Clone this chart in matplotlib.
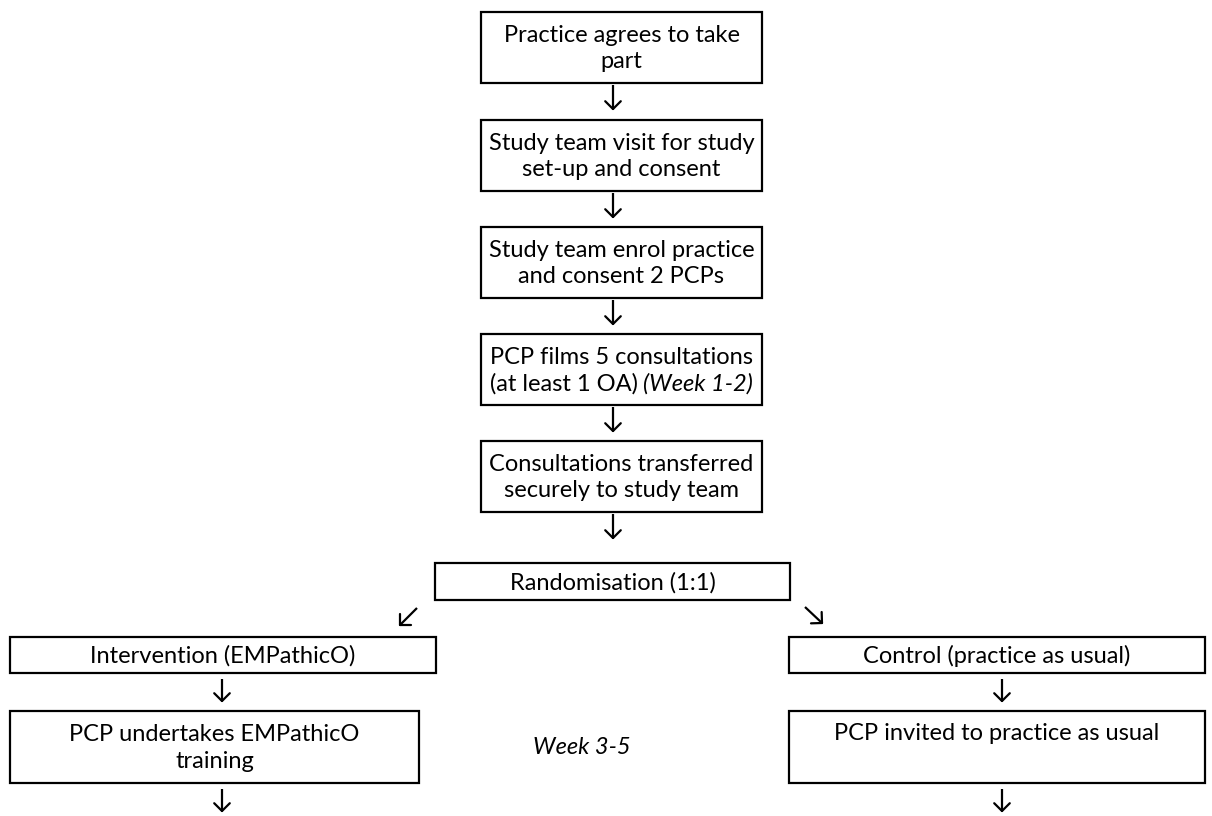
import matplotlib
matplotlib.use("Agg")
import numpy as np
from matplotlib import pyplot as plt
from matplotlib.patches import Rectangle

plt.rcParams['font.family'] = ['Lato', 'DejaVu Sans']

# flowchart text
main_steps = [
    "Practice agrees to take\npart",
    "Study team visit for study\nset-up and consent",
    "Study team enrol practice\nand consent 2 PCPs",
    None,
    "Consultations transferred\nsecurely to study team",
]
films_line = "PCP films 5 consultations"
week_plain = "(at least 1 OA)"
week_italic = "(Week 1-2)"
rand_label = "Randomisation (1:1)"
left_steps = ["Intervention (EMPathicO)", "PCP undertakes EMPathicO\ntraining"]
right_steps = ["Control (practice as usual)", "PCP invited to practice as usual"]
middle_note = "Week 3-5"

W, H = 1212, 816
fig = plt.figure(figsize=(W / 100, H / 100), dpi=100)
ax = fig.add_axes([0, 0, 1, 1])
ax.set_xlim(0, W)
ax.set_ylim(H, 0)
ax.axis('off')

FS = 17
LW = 1.6
LS = 1.35


def box(x0, y0, x1, y1, text=None, va_top=False):
    ax.add_patch(Rectangle((x0, y0), x1 - x0, y1 - y0, fill=False,
                           edgecolor='black', linewidth=LW))
    if text is not None:
        if va_top:
            ax.text((x0 + x1) / 2, y0 + 22, text, ha='center', va='center',
                    fontsize=FS, linespacing=LS)
        else:
            ax.text((x0 + x1) / 2, (y0 + y1) / 2 + 1, text, ha='center',
                    va='center', fontsize=FS, linespacing=LS)


def arrow(xt, yt, dx, dy, size=10):
    # tail-to-tip line plus open chevron head
    L = np.hypot(dx, dy)
    ux, uy = dx / L, dy / L
    x0, y0 = xt - dx, yt - dy
    ax.plot([x0, xt], [y0, yt], color='black', lw=1.6, solid_capstyle='butt')
    for ang in (np.pi * 3 / 4, -np.pi * 3 / 4):
        c, s = np.cos(ang), np.sin(ang)
        hx = ux * c - uy * s
        hy = ux * s + uy * c
        ax.plot([xt, xt + hx * size], [yt, yt + hy * size], color='black',
                lw=1.6, solid_capstyle='round')


# main column
cx0, cx1 = 481, 762
cx = (cx0 + cx1) / 2
tops = [12, 120, 227, 334, 441]
for i, label in enumerate(main_steps):
    y0 = tops[i]
    y1 = y0 + 71
    box(cx0, y0, cx1, y1, label)
    arrow(613, y1 + 26, 0, 24, size=11)

# 4th box: first line plain, second line plain + italic
y4 = tops[3]
ax.text(cx, y4 + 23, films_line, ha='center', va='center', fontsize=FS)
fig.canvas.draw()
r = fig.canvas.get_renderer()
yline = y4 + 50
gap = 5
tp = ax.text(0, yline, week_plain, fontsize=FS, va='center')
ti = ax.text(0, yline, week_italic, fontsize=FS, va='center', style='italic')
wp = tp.get_window_extent(r).width
wi = ti.get_window_extent(r).width
start = cx - (wp + gap + wi) / 2
tp.set_x(start)
ti.set_x(start + wp + gap)

# randomisation
box(435, 563, 790, 600, rand_label)
arrow(400, 625, -17, 17, size=11)
arrow(822, 623, 17, 16, size=11)

# arms
lx0, lx1 = 10, 436
rx0, rx1 = 789, 1205
box(lx0, 637, lx1, 673, left_steps[0])
box(rx0, 637, rx1, 673, right_steps[0])
arrow(222, 701, 0, 22, size=11)
arrow(1002, 701, 0, 22, size=11)
box(lx0, 711, 419, 783, left_steps[1])
box(rx0, 711, rx1, 783, right_steps[1], va_top=True)
arrow(222, 811, 0, 22, size=11)
arrow(1002, 811, 0, 22, size=11)

ax.text(582, 747, middle_note, ha='center', va='center', fontsize=FS,
        style='italic')

fig.savefig("out.png", dpi=100, facecolor='white')
